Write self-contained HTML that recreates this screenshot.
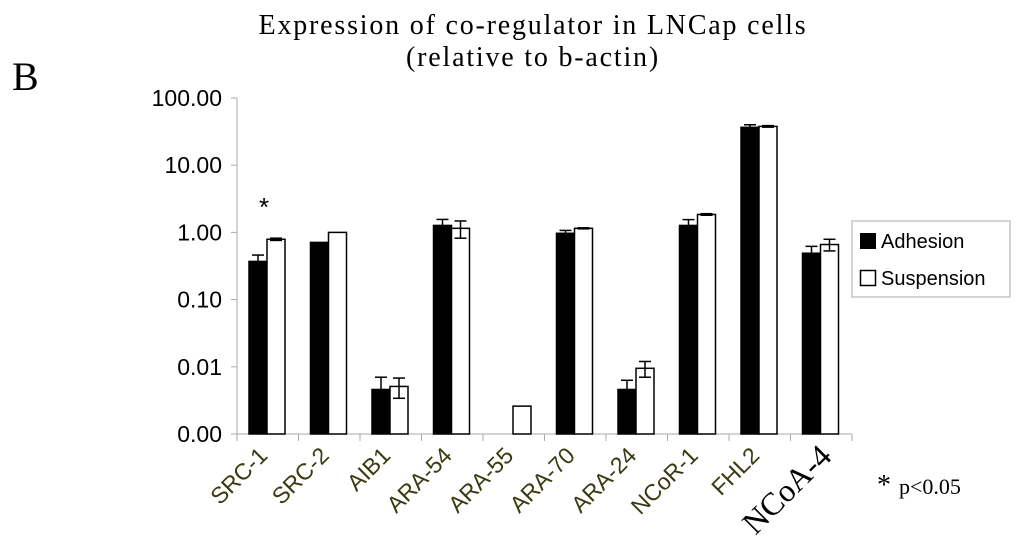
<!DOCTYPE html>
<html><head><meta charset="utf-8"><style>
html,body{margin:0;padding:0;background:#fff;width:1024px;height:558px;overflow:hidden}
svg{display:block}
</style></head><body>
<svg id="chart" width="1024" height="558" xmlns="http://www.w3.org/2000/svg">
<text x="12" y="90" font-family="Liberation Serif, serif" font-size="40">B</text>
<text x="533" y="34" text-anchor="middle" font-family="Liberation Serif, serif" font-size="28" letter-spacing="1.8">Expression of co-regulator in LNCap  cells</text>
<text x="533" y="66" text-anchor="middle" font-family="Liberation Serif, serif" font-size="28" letter-spacing="1.8">(relative to b-actin)</text>
<g id="axes"></g><g id="bars"></g><g id="labels"></g>
<g>
<rect x="852" y="221" width="158" height="76" fill="#fff" stroke="#aaa" stroke-width="1"/>
<rect x="860" y="233" width="16" height="16" fill="#000"/>
<text x="881" y="248" font-family="Liberation Sans, sans-serif" font-size="20">Adhesion</text>
<rect x="860.5" y="270.5" width="15" height="15" fill="#fff" stroke="#000" stroke-width="1.5"/>
<text x="881" y="285" font-family="Liberation Sans, sans-serif" font-size="20">Suspension</text>
</g>
<text x="877" y="494" font-family="Liberation Serif, serif" font-size="28">*<tspan font-size="22" dx="8">p&lt;0.05</tspan></text>
<text x="259" y="216" font-family="Liberation Sans, sans-serif" font-size="26">*</text>
</svg>
<script>
const categories=["SRC-1","SRC-2","AIB1","ARA-54","ARA-55","ARA-70","ARA-24","NCoR-1","FHL2","NCoA-4"];
const adhesion=[0.37,0.71,0.0046,1.27,0.001,0.97,0.0046,1.27,36.6,0.49];
const adhesionErr=[0.09,0,0.0024,0.29,0,0.1,0.0017,0.28,3.4,0.13];
const suspension=[0.79,1.0,0.0051,1.15,0.0026,1.15,0.0095,1.85,37.8,0.66];
const suspensionErr=[0.03,0,0.0017,0.33,0,0.02,0.0025,0.05,1,0.13];
const yTicks=[0.001,0.01,0.1,1,10,100];
const yTickLabels=["0.00","0.01","0.10","1.00","10.00","100.00"];
const NS="http://www.w3.org/2000/svg";
const X0=237,GW=61.5,YB=434,DEC=67.2;
const y=v=>YB-(Math.log10(v)+3)*DEC;
const x=i=>X0+i*GW;
function mk(tag,attrs,parent){const e=document.createElementNS(NS,tag);for(const k in attrs)e.setAttribute(k,attrs[k]);parent.appendChild(e);return e;}
const axes=document.getElementById('axes'),bars=document.getElementById('bars'),labels=document.getElementById('labels');
let a=mk('line',{x1:X0,y1:y(100),x2:X0,y2:YB,stroke:'#aaa','stroke-width':1},axes);


a=mk('line',{x1:X0-6,y1:YB,x2:x(10),y2:YB,stroke:'#aaa','stroke-width':1},axes);


yTicks.forEach((t,i)=>{
 mk('line',{x1:X0-6,y1:y(t),x2:X0,y2:y(t),stroke:'#aaa'},axes);
 const tx=mk('text',{x:X0-15,y:y(t)+8,'text-anchor':'end','font-family':'Liberation Sans, sans-serif','font-size':23},axes);
 tx.textContent=yTickLabels[i];
 
 
});
for(let i=0;i<=10;i++)mk('line',{x1:x(i),y1:YB,x2:x(i),y2:YB+7,stroke:'#aaa'},axes);
function bar(i,v,e,fill,off,name){
 const bx=x(i)+off,w=18;
 if(v>0.001){
  const r=mk('rect',{x:bx,y:y(v),width:w,height:YB-y(v),fill:fill,stroke:'#000','stroke-width':1.5},bars);
  
  
  if(e>0){const cx=bx+w/2,t=y(v+e),lo=fill==='#fff'?y(Math.max(v-e,0.0011)):y(v);
   mk('line',{x1:cx,y1:t,x2:cx,y2:lo,stroke:'#000','stroke-width':1.5},bars);
   mk('line',{x1:cx-6,y1:t,x2:cx+6,y2:t,stroke:'#000','stroke-width':1.5},bars);
   if(fill==='#fff')mk('line',{x1:cx-6,y1:lo,x2:cx+6,y2:lo,stroke:'#000','stroke-width':1.5},bars);}
 }
}
categories.forEach((c,i)=>{
 bar(i,adhesion[i],adhesionErr[i],'#000',12,'bar-adhesion-'+c.toLowerCase());
 bar(i,suspension[i],suspensionErr[i],'#fff',30,'bar-suspension-'+c.toLowerCase());
 const last=i===categories.length-1;
 const cx=x(i)+GW/2+(last?12:1),cy=last?458:457;
 const t=mk('text',{x:cx,y:cy,'text-anchor':'end',transform:`rotate(-45 ${cx} ${cy})`,'font-family':last?'Liberation Serif, serif':'Liberation Sans, sans-serif','font-size':last?32:23,fill:last?'#000':'#3a3a10'},labels);
 t.textContent=c;
 
 
});
</script>
</body></html>
